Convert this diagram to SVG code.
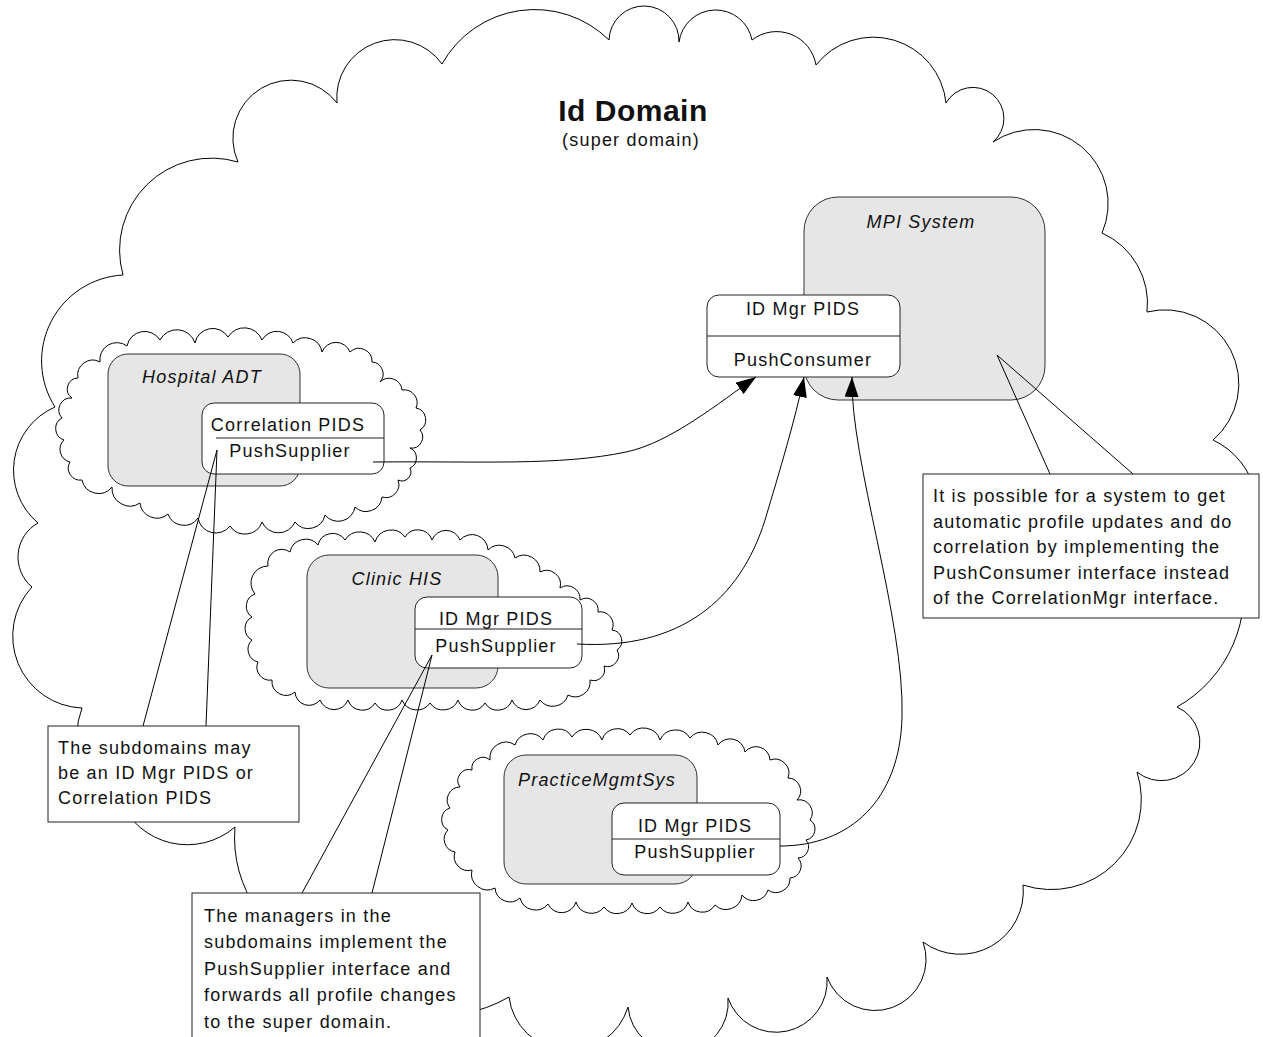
<svg xmlns="http://www.w3.org/2000/svg" width="1263" height="1037" viewBox="0 0 1263 1037">
  <defs>
    <style>
      .cloud { fill: none; stroke: #000; stroke-width: 1; }
      .sys { fill: #e6e6e6; stroke: #333; stroke-width: 1; }
      .iface { fill: #fff; stroke: #222; stroke-width: 1; }
      .div { stroke: #222; stroke-width: 1; }
      .note { fill: #fff; stroke: #222; stroke-width: 1; }
      .conn { fill: none; stroke: #000; stroke-width: 1; }
      .callout { fill: none; stroke: #000; stroke-width: 1; }
      .t { font-family: "Liberation Sans", Arial, sans-serif; font-size: 18px; letter-spacing: 1.2px; fill: #111; }
      .c { text-anchor: middle; }
      .i { font-style: italic; }
      .title { font-weight: bold; font-size: 30px; letter-spacing: 0.5px; }
    </style>
    <marker id="arrow" markerUnits="userSpaceOnUse" markerWidth="20" markerHeight="14" viewBox="0 0 20 14" refX="20" refY="7" orient="auto">
      <path d="M0,0 L20,7 L0,14 z" fill="#000"/>
    </marker>
  </defs>

  <rect width="1263" height="1037" fill="#fff"/>

  <!-- super domain cloud -->
  <g id="id-domain">
    <path class="cloud" d="M123,275 A92,92 0 0 1 238,162 A58,58 0 0 1 337,103 A58,58 0 0 1 442,64 A106,106 0 0 1 609,40 A35,35 0 0 1 679,42 A37,37 0 0 1 752,40 A40,40 0 0 1 816,65 A73,73 0 0 1 946,103 A31,31 0 1 1 993,142 A74,74 0 0 1 1102,233 A77,77 0 0 1 1147,312 A74,74 0 0 1 1213,440 A78,78 0 0 1 1240,560 A132,132 0 0 1 1177,707 A38.5,38.5 0 1 1 1137,772 A90,90 0 0 1 1023,885 A63,63 0 0 1 923,942 A51,51 0 0 1 827,977 A51,51 0 0 1 728,998 A50,50 0 0 1 628,1007 A61,61 0 0 1 509,997 A137,137 0 0 1 330,960 A126,126 0 0 1 235,827 A73,73 0 0 1 120,800 A72,72 0 0 1 82,708 A72,72 0 0 1 32,587 A39,39 0 0 1 38,523 A69,69 0 0 1 55,407 A86,86 0 0 1 123,275 Z"/>
    <text class="t c title" x="633" y="121">Id Domain</text>
    <text class="t c" x="631" y="146">(super domain)</text>
  </g>

  <!-- MPI system -->
  <g id="mpi-system">
    <rect class="sys" x="804" y="197" width="241" height="203" rx="34" ry="34"/>
    <text class="t c i" x="921" y="228">MPI System</text>
  </g>
  <g id="mpi-idmgr">
    <rect class="iface" x="707" y="295" width="193" height="82" rx="12" ry="12"/>
    <line class="div" x1="707" y1="336" x2="900" y2="336"/>
    <text class="t c" x="803" y="315">ID Mgr PIDS</text>
    <text class="t c" x="803" y="366">PushConsumer</text>
  </g>

  <!-- Hospital ADT subdomain -->
  <g id="hospital-adt">
    <path class="cloud" d="M100,362 A17,17 0 0 1 127,346 A18,18 0 0 1 160,340 A19,19 0 0 1 195,343 A18,18 0 0 1 228,337 A19,19 0 0 1 262,340 A17,17 0 0 1 293,343 A17,17 0 0 1 322,352 A15,15 0 0 1 350,352 A13,13 0 0 1 372,362 A12,12 0 0 1 380,382 A13,13 0 0 1 402,390 A13,13 0 0 1 416,408 A12,12 0 0 1 420,430 A11,11 0 0 1 410,448 A11,11 0 0 1 410,468 A9,9 0 0 1 398,480 A13,13 0 0 1 382,497 A16,16 0 0 1 355,507 A17,17 0 0 1 325,515 A17,17 0 0 1 295,522 A18,18 0 0 1 262,522 A18,18 0 0 1 230,526 A18,18 0 0 1 198,518 A17,17 0 0 1 168,514 A17,17 0 0 1 140,503 A18,18 0 0 1 112,487 A17,17 0 0 1 82,480 A12,12 0 0 1 70,462 A13,13 0 0 1 64,440 A12,12 0 0 1 62,418 A12,12 0 0 1 72,398 A11,11 0 0 1 78,378 A15,15 0 0 1 100,362 Z"/>
    <rect class="sys" x="108" y="354" width="192" height="132" rx="20" ry="20"/>
    <text class="t c i" x="202" y="383">Hospital ADT</text>
  </g>
  <g id="hospital-correlation">
    <rect class="iface" x="202" y="403" width="182" height="71" rx="12" ry="12"/>
    <line class="div" x1="216" y1="438" x2="384" y2="438"/>
    <text class="t c" x="288" y="431">Correlation PIDS</text>
    <text class="t c" x="290" y="457">PushSupplier</text>
  </g>

  <!-- Clinic HIS subdomain -->
  <g id="clinic-his">
    <path class="cloud" d="M268,566 A14,14 0 0 1 290,552 A16,16 0 0 1 318,545 A15,15 0 0 1 345,540 A17,17 0 0 1 375,542 A17,17 0 0 1 405,537 A15,15 0 0 1 432,540 A15,15 0 0 1 460,540 A16,16 0 0 1 488,550 A16,16 0 0 1 515,558 A16,16 0 0 1 540,572 A14,14 0 0 1 560,588 A13,13 0 0 1 580,600 A12,12 0 0 1 598,612 A13,13 0 0 1 612,630 A11,11 0 0 1 617,650 A11,11 0 0 1 604,666 A11,11 0 0 1 590,680 A15,15 0 0 1 568,695 A16,16 0 0 1 540,700 A15,15 0 0 1 512,700 A15,15 0 0 1 485,703 A15,15 0 0 1 458,700 A16,16 0 0 1 430,703 A16,16 0 0 1 402,700 A15,15 0 0 1 375,703 A15,15 0 0 1 348,700 A15,15 0 0 1 320,700 A14,14 0 0 1 295,692 A14,14 0 0 1 272,680 A13,13 0 0 1 258,662 A13,13 0 0 1 252,640 A13,13 0 0 1 252,617 A13,13 0 0 1 255,594 A17,17 0 0 1 268,566 Z"/>
    <rect class="sys" x="307" y="555" width="191" height="133" rx="22" ry="22"/>
    <text class="t c i" x="397" y="585">Clinic HIS</text>
  </g>
  <g id="clinic-idmgr">
    <rect class="iface" x="415" y="597" width="167" height="71" rx="12" ry="12"/>
    <line class="div" x1="415" y1="629" x2="582" y2="629"/>
    <text class="t c" x="496" y="625">ID Mgr PIDS</text>
    <text class="t c" x="496" y="652">PushSupplier</text>
  </g>

  <!-- Practice management subdomain -->
  <g id="practice-mgmt">
    <path class="cloud" d="M490,760 A16,16 0 0 1 515,745 A16,16 0 0 1 543,740 A16,16 0 0 1 572,737 A17,17 0 0 1 602,740 A16,16 0 0 1 630,735 A17,17 0 0 1 660,740 A17,17 0 0 1 690,738 A16,16 0 0 1 718,745 A15,15 0 0 1 745,752 A14,14 0 0 1 770,760 A14,14 0 0 1 788,778 A13,13 0 0 1 797,800 A13,13 0 0 1 810,820 A11,11 0 0 1 806,840 A11,11 0 0 1 798,858 A12,12 0 0 1 790,878 A14,14 0 0 1 768,890 A15,15 0 0 1 742,895 A16,16 0 0 1 715,905 A15,15 0 0 1 688,902 A16,16 0 0 1 660,907 A16,16 0 0 1 632,903 A16,16 0 0 1 604,907 A16,16 0 0 1 576,902 A15,15 0 0 1 548,904 A16,16 0 0 1 520,898 A15,15 0 0 1 495,888 A16,16 0 0 1 472,870 A14,14 0 0 1 455,852 A13,13 0 0 1 448,830 A12,12 0 0 1 450,808 A13,13 0 0 1 460,787 A11,11 0 0 1 472,770 A11,11 0 0 1 490,760 Z"/>
    <rect class="sys" x="504" y="755" width="193" height="129" rx="22" ry="22"/>
    <text class="t c i" x="597" y="786">PracticeMgmtSys</text>
  </g>
  <g id="practice-idmgr">
    <rect class="iface" x="612" y="803" width="168" height="72" rx="12" ry="12"/>
    <line class="div" x1="612" y1="839" x2="780" y2="839"/>
    <text class="t c" x="695" y="832">ID Mgr PIDS</text>
    <text class="t c" x="695" y="858">PushSupplier</text>
  </g>

  <!-- push connections into the MPI consumer -->
  <g id="connectors">
    <path class="conn" marker-end="url(#arrow)" d="M373,462 C480,461 560,466 626,452 C670,443 720,402 756,377"/>
    <path class="conn" marker-end="url(#arrow)" d="M577,644 C680,650 740,600 765,520 C780,470 795,420 804,377"/>
    <path class="conn" marker-end="url(#arrow)" d="M780,846 C850,846 900,800 902,717 C905,620 850,460 852,377"/>
  </g>

  <!-- annotations -->
  <g id="note-subdomains">
    <polyline class="callout" points="143,726 217,450 206,726"/>
    <rect class="note" x="48" y="726" width="251" height="96"/>
    <text class="t" x="58" y="754">The subdomains may</text>
    <text class="t" x="58" y="779">be an ID Mgr PIDS or</text>
    <text class="t" x="58" y="804">Correlation PIDS</text>
  </g>
  <g id="note-managers">
    <polyline class="callout" points="302,893 432,655 372,893"/>
    <rect class="note" x="192" y="893" width="288" height="160"/>
    <text class="t" x="204" y="922">The managers in the</text>
    <text class="t" x="204" y="948">subdomains implement the</text>
    <text class="t" x="204" y="975">PushSupplier interface and</text>
    <text class="t" x="204" y="1001">forwards all profile changes</text>
    <text class="t" x="204" y="1028">to the super domain.</text>
  </g>
  <g id="note-consumer">
    <polyline class="callout" points="1050,474 997,355 1133,474"/>
    <rect class="note" x="923" y="474" width="336" height="144"/>
    <text class="t" x="933" y="502">It is possible for a system to get</text>
    <text class="t" x="933" y="528">automatic profile updates and do</text>
    <text class="t" x="933" y="553">correlation by implementing the</text>
    <text class="t" x="933" y="579">PushConsumer interface instead</text>
    <text class="t" x="933" y="604">of the CorrelationMgr interface.</text>
  </g>
</svg>
